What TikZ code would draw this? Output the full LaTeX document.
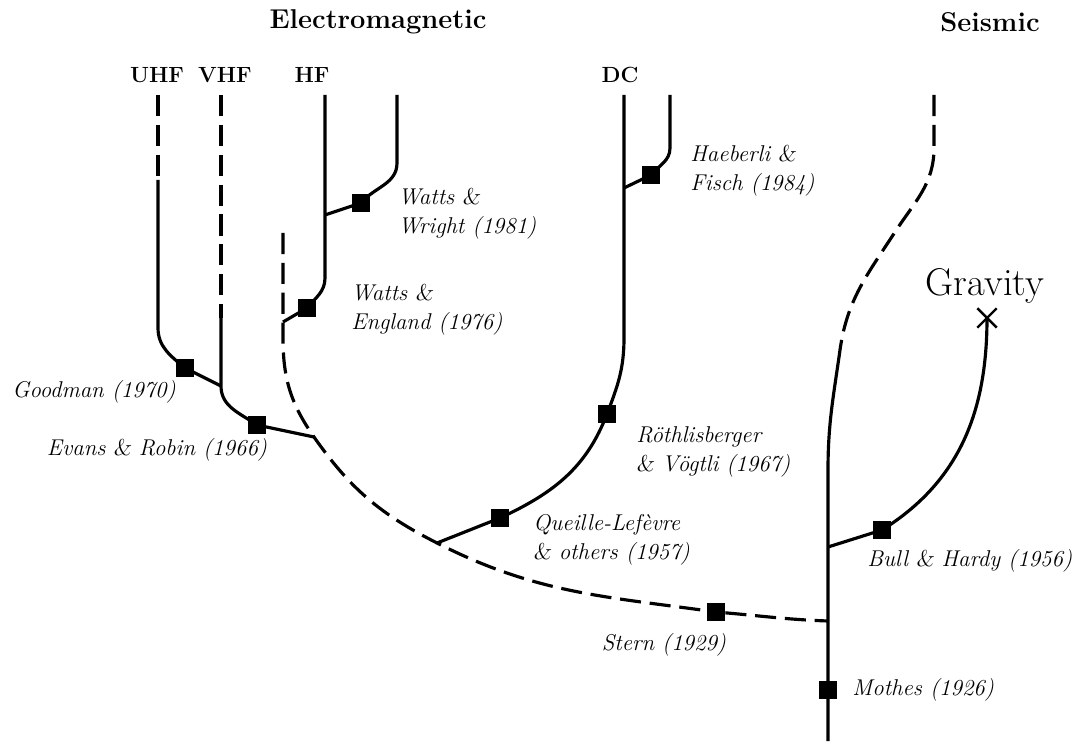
\documentclass[tikz,border=0pt]{standalone}
\usepackage{tikz}
\usetikzlibrary{shapes.misc}
\newcommand{\ampsl}{{\slshape\&}}

\begin{document}
\begin{tikzpicture}[
  sq/.style={rectangle, fill=black, minimum size=0.36cm, inner sep=0pt},
  lbl/.style={font=\fontsize{13}{16.5}\selectfont\itshape, align=left, inner sep=0pt},
  head/.style={font=\fontsize{15.5}{19}\selectfont\bfseries},
  band/.style={font=\fontsize{12.5}{15}\selectfont\bfseries},
  grav/.style={font=\fontsize{22}{25}\selectfont},
  ln/.style={line width=1.8pt},
  dln/.style={line width=1.8pt, dash pattern=on 12pt off 5pt},
  xmark/.style={cross out, draw, line width=1.4pt, minimum size=0.34cm, inner sep=0pt}
]
\useasboundingbox (0,0) rectangle (21.5,14.86);

%% --- Headings ---
\node[head] (EM) at ( 7.56,14.42) {Electromagnetic};
\node[head] (SE) at (19.80,14.42) {Seismic};
\node[band] (UHF) at ( 3.14,13.36) {UHF};
\node[band] (VHF) at ( 4.50,13.36) {VHF};
\node[band] (HF)  at ( 6.24,13.36) {HF};
\node[band] (DC)  at (12.40,13.36) {DC};
\node[grav] (GR)  at (19.70, 9.14) {Gravity};

%% --- End points and junctions ---
\coordinate (uhfTop)   at ( 3.16,12.96);
\coordinate (uhfSolid) at ( 3.16,11.26);
\coordinate (uhfBend)  at ( 3.16, 8.30);
\coordinate (vhfTop)   at ( 4.42,12.96);
\coordinate (vhfSolid) at ( 4.42, 8.50);
\coordinate (jVHF)     at ( 4.42, 7.14);
\coordinate (hfTop)    at ( 6.50,12.96);
\coordinate (hfBend)   at ( 6.50, 9.30);
\coordinate (jWR)      at ( 6.50,10.56);
\coordinate (hfrTop)   at ( 7.94,12.96);
\coordinate (hfrBend)  at ( 7.94,11.60);
\coordinate (dTop)     at ( 5.66,10.20);
\coordinate (jWE)      at ( 5.66, 8.42);
\coordinate (dBend)    at ( 5.66, 8.10);
\coordinate (jER)      at ( 6.28, 6.12);
\coordinate (jQL)      at ( 8.74, 4.00);
\coordinate (jST)      at (16.56, 2.44);
\coordinate (dcTop)    at (12.48,12.96);
\coordinate (jHF)      at (12.48,11.10);
\coordinate (dcBend)   at (12.48, 8.10);
\coordinate (dcrTop)   at (13.40,12.96);
\coordinate (dcrBend)  at (13.40,11.90);
\coordinate (sTop)     at (18.68,12.96);
\coordinate (sBend)    at (18.68,11.90);
\coordinate (sMid)     at (17.90,10.22);
\coordinate (sSolid)   at (16.80, 7.86);
\coordinate (sVert)    at (16.56, 5.46);
\coordinate (jBH)      at (16.56, 3.92);
\coordinate (sBot)     at (16.56, 0.04);

%% --- Dated observations ---
\node[sq] (GM) at ( 3.70, 7.50) {};
\node[sq] (ER) at ( 5.14, 6.36) {};
\node[sq] (WE) at ( 6.14, 8.70) {};
\node[sq] (WR) at ( 7.22,10.80) {};
\node[sq] (HB) at (13.02,11.36) {};
\node[sq] (RV) at (12.14, 6.58) {};
\node[sq] (QL) at (10.00, 4.50) {};
\node[sq] (ST) at (14.32, 2.62) {};
\node[sq] (BH) at (17.64, 4.26) {};
\node[sq] (MO) at (16.56, 1.06) {};
\node[xmark] (GX) at (19.74, 8.50) {};

%% --- Labels ---
\node[lbl] (lGM) at ( 1.88, 7.02) {Goodman (1970)};
\node[lbl] (lER) at ( 3.14, 5.86) {Evans \ampsl\ Robin (1966)};
\node[lbl, anchor=west] (lWE) at ( 7.02, 8.66) {Watts \ampsl\\England (1976)};
\node[lbl, anchor=west] (lWR) at ( 7.96,10.58) {Watts \ampsl\\Wright (1981)};
\node[lbl, anchor=west] (lHB) at (13.80,11.44) {Haeberli \ampsl\\Fisch (1984)};
\node[lbl, anchor=west] (lRV) at (12.72, 5.82) {R\"othlisberger\\\ampsl\ V\"ogtli (1967)};
\node[lbl, anchor=west] (lQL) at (10.66, 4.06) {Queille-Lef\`evre\\\ampsl\ others (1957)};
\node[lbl] (lST) at (13.28, 1.96) {Stern (1929)};
\node[lbl, anchor=west] (lBH) at (17.34, 3.64) {Bull \ampsl\ Hardy (1956)};
\node[lbl, anchor=west] (lMO) at (17.04, 1.06) {Mothes (1926)};

%% --- UHF and VHF ---
\draw[dln] (uhfTop) -- (uhfSolid);
\draw[ln] (uhfSolid) -- (uhfBend) to[out=-90,in=140] (GM.center) -- (jVHF);
\draw[dln] (vhfTop) -- (vhfSolid);
\draw[ln] (vhfSolid) -- (jVHF) to[out=-90,in=145] (ER.center) -- (jER);

%% --- HF ---
\draw[ln] (hfTop) -- (hfBend) to[out=-90,in=50] (WE.center) -- (jWE);
\draw[ln] (hfrTop) -- (hfrBend) to[out=-90,in=50] (WR.center) -- (jWR);

%% --- Main dashed branch ---
\draw[dln] (dTop) -- (dBend) to[out=-90,in=125] (jER)
  to[out=-55,in=153] (jQL) to[out=-27,in=172] (ST.center);
\draw[dln] (ST) to[out=-5,in=178] (jST);

%% --- DC ---
\draw[ln] (dcTop) -- (dcBend) to[out=-90,in=69] (RV.center)
  to[out=-111,in=25] (QL.center) -- (jQL);
\draw[ln] (dcrTop) -- (dcrBend) to[out=-90,in=50] (HB.center) -- (jHF);

%% --- Seismic and gravity ---
\draw[dln] (sTop) -- (sBend) to[out=-90,in=57] (sMid)
  to[out=-123,in=82] (sSolid);
\draw[ln] (sSolid) to[out=-98,in=90] (sVert) -- (jST) -- (MO.center) -- (sBot);
\draw[ln] (jBH) -- (BH.center) to[out=32,in=-90] (GX.center);

\end{tikzpicture}
\end{document}
